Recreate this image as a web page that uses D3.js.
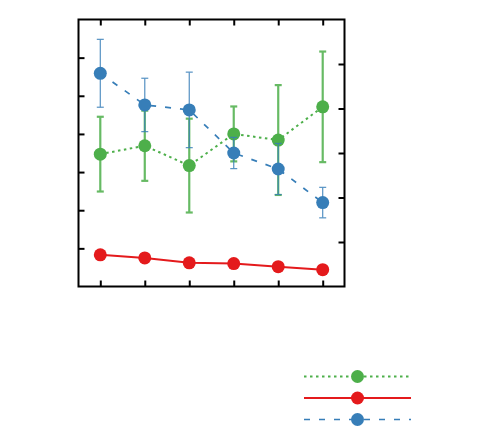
<!DOCTYPE html>
<html>
<head>
<meta charset="utf-8">
<script src="https://cdn.jsdelivr.net/npm/d3@7"></script>
<style>
  body { margin: 0; background: #fff; }
</style>
</head>
<body>
<svg width="480" height="436"></svg>
<script>
// chart data
var categories = ['1', '2', '3', '4', '5', '6'];
var greenValues = [34.7, 36.9, 31.7, 40.0, 38.4, 47.1];
var greenErrors = [9.8, 9.2, 12.3, 7.2, 14.4, 14.5];
var redValues = [8.3, 7.5, 6.2, 6.0, 5.2, 4.4];
var blueValues = [55.9, 47.6, 46.3, 35.0, 30.8, 22.0];
var blueErrors = [8.9, 7.0, 9.9, 4.1, 6.7, 4.0];
var leftTicks = [10, 20, 30, 40, 50, 60];
var rightTicks = [10, 20, 30, 40, 50];

var svg = d3.select('svg');
// note: "top" is taken by window.top, so use plot* names
var plotLeft = 78.5, plotRight = 344.5, plotTop = 19.5, plotBottom = 286.5;

var x = d3.scalePoint()
  .domain(categories)
  .range([plotLeft, plotRight])
  .padding(0.49);

var y = d3.scaleLinear().domain([0, 70]).range([plotBottom, plotTop]);
var yRight = d3.scaleLinear().domain([0, 60]).range([plotBottom, plotTop]);

// axes with inward ticks and no labels
function noLabels(g) {
  g.select('.domain').remove();
  g.selectAll('text').remove();
  g.selectAll('line').attr('stroke', '#000').attr('stroke-width', 2);
}

svg.append('g')
  .attr('transform', 'translate(' + plotLeft + ',0)')
  .call(d3.axisRight(y).tickValues(leftTicks).tickSize(6))
  .call(noLabels);

svg.append('g')
  .attr('transform', 'translate(' + plotRight + ',0)')
  .call(d3.axisLeft(yRight).tickValues(rightTicks).tickSize(6))
  .call(noLabels);

svg.append('g')
  .attr('transform', 'translate(0,' + plotBottom + ')')
  .call(d3.axisTop(x).tickSize(6))
  .call(noLabels);

svg.append('g')
  .attr('transform', 'translate(0,' + plotTop + ')')
  .call(d3.axisBottom(x).tickSize(6))
  .call(noLabels);

svg.append('rect')
  .attr('x', plotLeft)
  .attr('y', plotTop)
  .attr('width', plotRight - plotLeft)
  .attr('height', plotBottom - plotTop)
  .attr('fill', 'none')
  .attr('stroke', '#000')
  .attr('stroke-width', 2);

var series = [
  { values: redValues, errors: null, color: '#e41a1c', dash: null, width: 2, barWidth: 2 },
  { values: greenValues, errors: greenErrors, color: '#4daf4a', dash: '2.5,3.5', width: 2, barWidth: 2.2 },
  { values: blueValues, errors: blueErrors, color: '#377eb8', dash: '6,9', width: 1.7, barWidth: 1.2 }
];

var line = d3.line()
  .x(function(d) { return x(d.cat); })
  .y(function(d) { return y(d.v); });

series.forEach(function(s) {
  var pts = s.values.map(function(v, i) {
    return { cat: categories[i], v: v, e: s.errors ? s.errors[i] : 0 };
  });
  var g = svg.append('g');

  g.append('path')
    .datum(pts)
    .attr('d', line)
    .attr('fill', 'none')
    .attr('stroke', s.color)
    .attr('stroke-width', s.width)
    .attr('stroke-dasharray', s.dash);

  if (s.errors) {
    var bars = g.selectAll('.err')
      .data(pts)
      .enter().append('g')
      .attr('stroke', s.color)
      .attr('stroke-width', s.barWidth)
      .attr('opacity', 0.85);
    bars.append('line')
      .attr('x1', function(d) { return x(d.cat); })
      .attr('x2', function(d) { return x(d.cat); })
      .attr('y1', function(d) { return y(d.v + d.e); })
      .attr('y2', function(d) { return y(d.v - d.e); });
    [1, -1].forEach(function(sign) {
      bars.append('line')
        .attr('x1', function(d) { return x(d.cat) - 3.5; })
        .attr('x2', function(d) { return x(d.cat) + 3.5; })
        .attr('y1', function(d) { return y(d.v + sign * d.e); })
        .attr('y2', function(d) { return y(d.v + sign * d.e); });
    });
  }

  g.selectAll('circle')
    .data(pts)
    .enter().append('circle')
    .attr('cx', function(d) { return x(d.cat); })
    .attr('cy', function(d) { return y(d.v); })
    .attr('r', 6.5)
    .attr('fill', s.color);
});

// legend: lines and markers only
var legendOrder = [series[1], series[0], series[2]];
var legend = svg.append('g');
legendOrder.forEach(function(s, i) {
  var ly = 376.5 + i * 21.5;
  legend.append('line')
    .attr('x1', 304)
    .attr('x2', 411)
    .attr('y1', ly)
    .attr('y2', ly)
    .attr('stroke', s.color)
    .attr('stroke-width', s.width)
    .attr('stroke-dasharray', s.dash);
  legend.append('circle')
    .attr('cx', 357.5)
    .attr('cy', ly)
    .attr('r', 6.5)
    .attr('fill', s.color);
});
</script>
</body>
</html>
